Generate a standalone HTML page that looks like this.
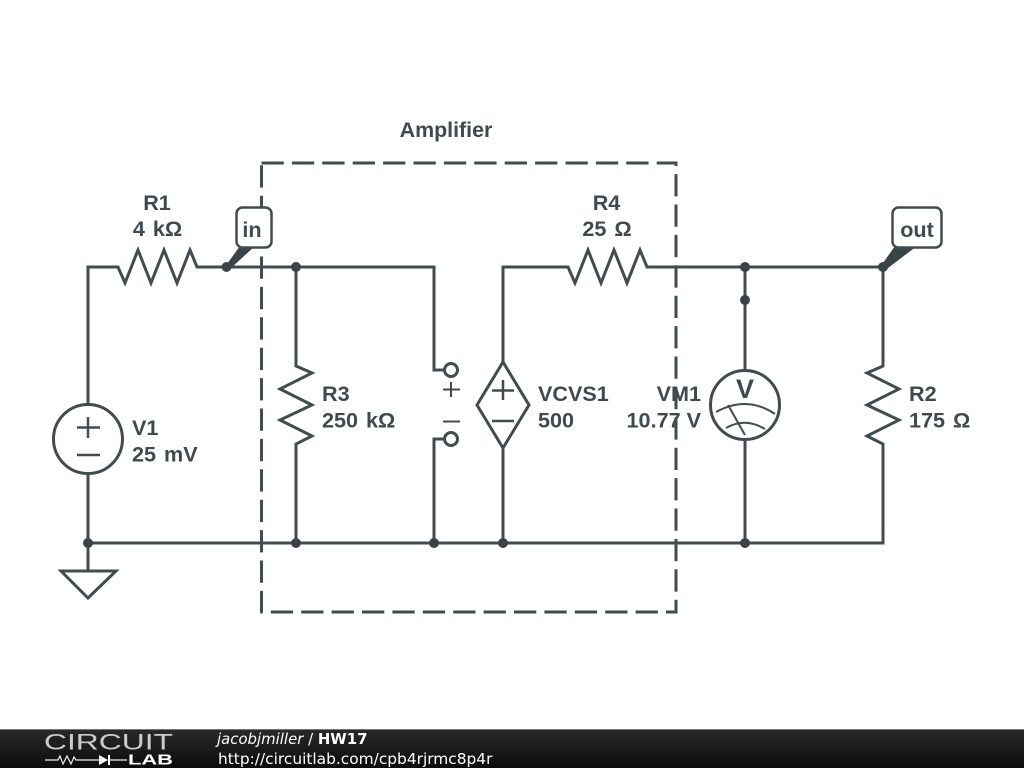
<!DOCTYPE html>
<html><head><meta charset="utf-8"><style>
html,body{margin:0;padding:0;background:#fff;width:1024px;height:768px;overflow:hidden}
svg{display:block}
.l{font-family:"Liberation Sans",sans-serif;font-weight:bold;font-size:21.6px;fill:#3f4a50}
.s{word-spacing:2px}
.w{fill:none;stroke:#424c50;stroke-width:3}
.t{fill:none;stroke:#424c50;stroke-width:2.5}
.d{fill:#3a4448}
.f{font-family:"DejaVu Sans",sans-serif;fill:#fff}
</style></head><body>
<svg width="1024" height="768" viewBox="0 0 1024 768" xmlns="http://www.w3.org/2000/svg">
<defs><linearGradient id="g" x1="0" y1="0" x2="0" y2="1"><stop offset="0" stop-color="#2a2a2a"/><stop offset="1" stop-color="#0c0c0c"/></linearGradient></defs>
<path d="M261.500 163H676V612H261.500Z" fill="none" stroke="#424c50" stroke-width="3" stroke-dasharray="22.300 8.100"/>
<path class="w" d="M88 405V267H118L125 283L138 250L151 283L164 250L177 283L190 250L197 267H434V370H444"/>
<path class="w" d="M88 474V543M61 571H116L88 598ZM88 543V571"/>
<path class="w" d="M88 543H883V444L867 436L899 420L867 405L899 389L867 373L883 366V267H745"/>
<path class="w" d="M296 267V366L312 373L280 389L312 405L280 420L312 436L296 444V543"/>
<path class="w" d="M434 543V439H444"/>
<path class="w" d="M503 543V448M503 362V267H568L575 283L588 250L601 283L614 250L627 283L640 250L647 267H745V370M745 440V543"/>
<path class="w" d="M503 362L529 405L503 448L477 405Z"/>
<circle class="w" cx="88" cy="439" r="34.500"/>
<circle class="w" cx="745" cy="405" r="34.500"/>
<circle class="w" cx="451" cy="370" r="6.500"/>
<circle class="w" cx="451" cy="439" r="6.500"/>
<path class="t" d="M88 417V438M77 427.500H100M77 455H100"/>
<path class="t" d="M503 380V400M492 390.500H514M492 421H514"/>
<path class="t" d="M451 382V397M443 389.500H460M443 421.500H460" style="stroke-width:2"/>
<path class="t" d="M716 412Q747 395 775 414M726 428Q745 417 765 429M728 405L745 435" style="stroke-width:2"/>
<g class="d">
<circle cx="226.500" cy="267" r="5"/><circle cx="296" cy="267" r="5"/><circle cx="745" cy="267" r="5"/><circle cx="883" cy="267" r="5"/><circle cx="745" cy="300" r="5"/>
<circle cx="88" cy="543" r="5"/><circle cx="296" cy="543" r="5"/><circle cx="434" cy="543" r="5"/><circle cx="503" cy="543" r="5"/><circle cx="745" cy="543" r="5"/>
<path d="M227 264L240 246H255L231 268Z"/>
<path d="M883 263L895 246H917L888 268Z"/>
</g>
<rect x="236.500" y="207.500" width="35" height="40" rx="6" fill="#fff" stroke="#424c50" stroke-width="2.500"/>
<rect x="892.500" y="207.500" width="49" height="40" rx="6" fill="#fff" stroke="#424c50" stroke-width="2.500"/>
<text class="l" x="446" y="137" text-anchor="middle" style="font-size:21.400px">Amplifier</text>
<text class="l" x="157" y="210" text-anchor="middle">R1</text>
<text class="l s" x="157.500" y="236" text-anchor="middle">4 kΩ</text>
<text class="l" x="252" y="237" text-anchor="middle">in</text>
<text class="l" x="917" y="237" text-anchor="middle">out</text>
<text class="l" x="606.500" y="210" text-anchor="middle">R4</text>
<text class="l s" x="607" y="236" text-anchor="middle">25 Ω</text>
<text class="l" x="322" y="401">R3</text>
<text class="l s" x="322" y="427.500">250 kΩ</text>
<text class="l" x="132" y="435">V1</text>
<text class="l s" x="132" y="461.500">25 mV</text>
<text class="l" x="538" y="401">VCVS1</text>
<text class="l" x="538" y="427.500">500</text>
<text class="l" x="701" y="401" text-anchor="end">VM1</text>
<text class="l" x="701" y="427.500" text-anchor="end">10.77 V</text>
<text class="l" x="909" y="401">R2</text>
<text class="l s" x="909" y="427.500">175 Ω</text>
<text x="745" y="398" text-anchor="middle" class="l" style="font-size:27px">V</text>
<rect x="0" y="729" width="1024" height="39" fill="url(#g)"/>
<rect x="0" y="729" width="1024" height="1" fill="#777"/>
<text x="44" y="749.500" font-family="'Liberation Sans',sans-serif" font-size="22" fill="#ccc" textLength="129" lengthAdjust="spacingAndGlyphs">CIRCUIT</text>
<path d="M45 760H58L60 756L63 764L67 756L71 764L74 757L76 760H99M110 760H127" fill="none" stroke="#eee" stroke-width="1.200"/>
<path d="M99 755L108 760L99 765ZM108 755H110V765H108Z" fill="#fff"/>
<text x="128" y="764.500" font-family="'Liberation Sans',sans-serif" font-weight="bold" font-size="14.500" fill="#fff" textLength="45" lengthAdjust="spacingAndGlyphs">LAB</text>
<text class="f" x="217" y="744" font-size="14.900"><tspan font-style="italic">jacobjmiller</tspan> / <tspan font-weight="bold">HW17</tspan></text>
<text class="f" x="218" y="764" font-size="15.400">http://circuitlab.com/cpb4rjrmc8p4r</text>
</svg>
</body></html>
